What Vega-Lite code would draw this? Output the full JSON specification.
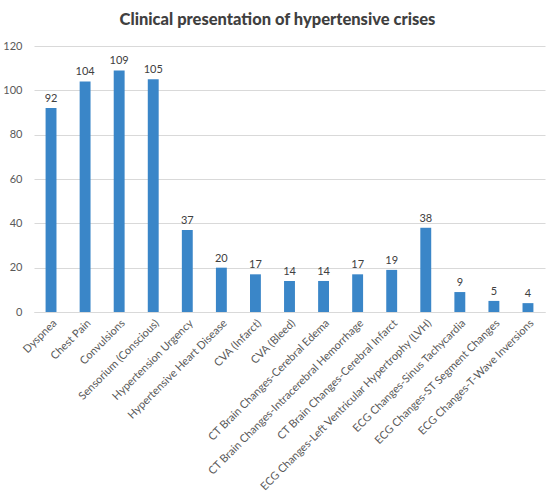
{
  "$schema": "https://vega.github.io/schema/vega-lite/v6.json",
  "autosize": "none",
  "width": 511,
  "height": 266,
  "padding": {"left": 34, "top": 46, "right": 15, "bottom": 180},
  "background": "white",
  "title": {"text": "Clinical presentation of hypertensive crises", "fontSize": 16.5, "font": "Lato", "fontWeight": 900, "color": "#404040", "anchor": "middle", "offset": 12, "dx": -12},
  "data": {"values": [
    {"cat": "Dyspnea", "n": 92},
    {"cat": "Chest Pain", "n": 104},
    {"cat": "Convulsions", "n": 109},
    {"cat": "Sensorium (Conscious)", "n": 105},
    {"cat": "Hypertension Urgency", "n": 37},
    {"cat": "Hypertensive Heart Disease", "n": 20},
    {"cat": "CVA (Infarct)", "n": 17},
    {"cat": "CVA (Bleed)", "n": 14},
    {"cat": "CT Brain Changes-Cerebral Edema", "n": 14},
    {"cat": "CT Brain Changes-Intracerebral Hemorrhage", "n": 17},
    {"cat": "CT Brain Changes-Cerebral Infarct", "n": 19},
    {"cat": "ECG Changes-Left Ventricular Hypertrophy (LVH)", "n": 38},
    {"cat": "ECG Changes-Sinus Tachycardia", "n": 9},
    {"cat": "ECG Changes-ST Segment Changes", "n": 5},
    {"cat": "ECG Changes-T-Wave Inversions", "n": 4}
  ]},
  "encoding": {
    "x": {"field": "cat", "type": "nominal", "sort": null, "title": null,
      "scale": {"paddingInner": 0.68, "paddingOuter": 0.34},
      "axis": {"labelAngle": -45, "labelFont": "Lato", "labelFontSize": 11, "labelColor": "#595959", "ticks": false, "domainColor": "#d9d9d9", "labelPadding": 5, "labelLimit": 300}},
    "y": {"field": "n", "type": "quantitative", "title": null,
      "scale": {"domain": [0, 120]},
      "axis": {"values": [0, 20, 40, 60, 80, 100, 120], "domain": false, "ticks": false, "labelFont": "Lato", "labelFontSize": 11, "labelColor": "#595959", "gridColor": "#d9d9d9", "labelPadding": 12}}
  },
  "layer": [
    {"mark": {"type": "bar", "color": "#3a86c8"}},
    {"mark": {"type": "text", "dy": -9, "font": "Lato", "fontSize": 11, "color": "#404040"}, "encoding": {"text": {"field": "n", "type": "quantitative"}}}
  ],
  "config": {"view": {"stroke": null}}
}
